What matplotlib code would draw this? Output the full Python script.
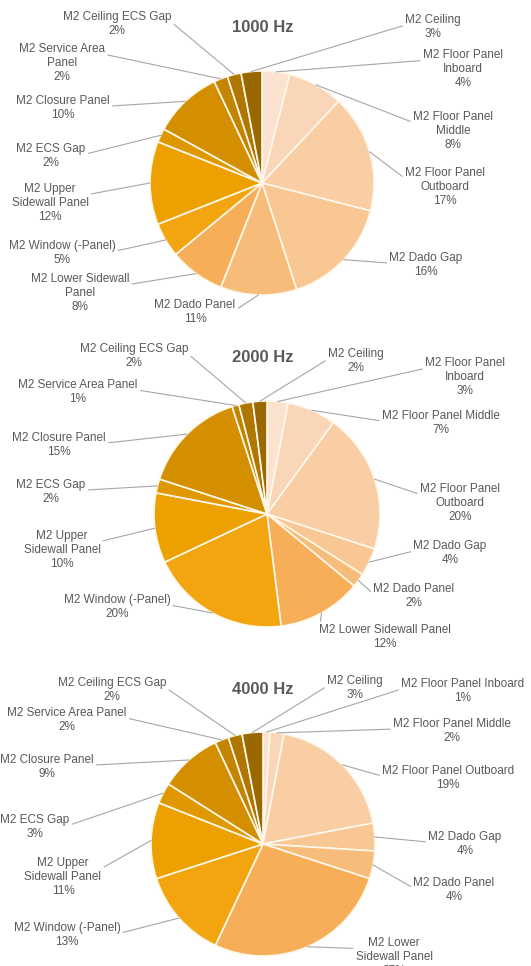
import numpy as np
import matplotlib
matplotlib.use("Agg")
import matplotlib.pyplot as plt

plt.rcParams['font.family'] = ['Liberation Sans', 'DejaVu Sans']

# slice order clockwise from 12 o'clock
parts = ["M2 Floor Panel Inboard", "M2 Floor Panel Middle", "M2 Floor Panel Outboard",
         "M2 Dado Gap", "M2 Dado Panel", "M2 Lower Sidewall Panel", "M2 Window (-Panel)",
         "M2 Upper Sidewall Panel", "M2 ECS Gap", "M2 Closure Panel",
         "M2 Service Area Panel", "M2 Ceiling ECS Gap", "M2 Ceiling"]
share_1000 = [4, 8, 17, 16, 11, 8, 5, 12, 2, 10, 2, 2, 3]
share_2000 = [3, 7, 20, 4, 2, 12, 20, 10, 2, 15, 1, 2, 2]
share_4000 = [1, 2, 19, 4, 4, 27, 13, 11, 3, 9, 2, 2, 3]
titles = ["1000 Hz", "2000 Hz", "4000 Hz"]

# how the names wrap in each chart
names_1000 = ["M2 Floor Panel\nInboard", "M2 Floor Panel\nMiddle", "M2 Floor Panel\nOutboard",
              "M2 Dado Gap", "M2 Dado Panel", "M2 Lower Sidewall\nPanel", "M2 Window (-Panel)",
              "M2 Upper\nSidewall Panel", "M2 ECS Gap", "M2 Closure Panel",
              "M2 Service Area\nPanel", "M2 Ceiling ECS Gap", "M2 Ceiling"]
names_2000 = ["M2 Floor Panel\nInboard", "M2 Floor Panel Middle", "M2 Floor Panel\nOutboard",
              "M2 Dado Gap", "M2 Dado Panel", "M2 Lower Sidewall Panel", "M2 Window (-Panel)",
              "M2 Upper\nSidewall Panel", "M2 ECS Gap", "M2 Closure Panel",
              "M2 Service Area Panel", "M2 Ceiling ECS Gap", "M2 Ceiling"]
names_4000 = ["M2 Floor Panel Inboard", "M2 Floor Panel Middle", "M2 Floor Panel Outboard",
              "M2 Dado Gap", "M2 Dado Panel", "M2 Lower\nSidewall Panel", "M2 Window (-Panel)",
              "M2 Upper\nSidewall Panel", "M2 ECS Gap", "M2 Closure Panel",
              "M2 Service Area Panel", "M2 Ceiling ECS Gap", "M2 Ceiling"]

# layout, in pixels from the top-left corner
pies = [(262, 183, 112), (267, 514, 113), (263, 844, 112)]
title_y = [27, 357, 689]
pos_1000 = [(463, 69), (453, 131), (445, 187), (426, 265), (195, 312), (80, 293), (62, 253),
            (50, 203), (51, 156), (63, 108), (62, 63), (117, 24), (433, 27)]
pos_2000 = [(465, 377), (441, 423), (460, 503), (450, 553), (414, 596), (385, 637), (117, 607),
            (62, 550), (51, 492), (59, 445), (78, 392), (134, 356), (356, 361)]
pos_4000 = [(463, 691), (452, 731), (448, 778), (465, 844), (454, 890), (394, 957), (67, 935),
            (63, 877), (35, 827), (47, 767), (67, 720), (112, 690), (355, 688)]

colors = ['#FCE3D0', '#FAD6B8', '#F9CEA5', '#F9C794', '#F7BC7A', '#F6AE58', '#F3A510',
          '#EDA100', '#E09800', '#D38F00', '#C38500', '#AF7700', '#9A6800']

W, H = 531, 966
fig = plt.figure(figsize=(W / 100, H / 100), dpi=100)
ax = fig.add_axes([0, 0, 1, 1])

text_col = '#595959'
line_col = '#A6A6A6'

charts = [(share_1000, names_1000, pos_1000), (share_2000, names_2000, pos_2000),
          (share_4000, names_4000, pos_4000)]

for k, (vals, names, pos) in enumerate(charts):
    cx, cy, r = pies[k]
    cy = H - cy
    wedges, _ = ax.pie(vals, colors=colors, startangle=90, counterclock=False,
                       center=(cx, cy), radius=r,
                       wedgeprops=dict(edgecolor='#FFF8EA', linewidth=1.2))
    ax.text(263, H - title_y[k], titles[k], ha='center', va='center',
            fontsize=12, fontweight='bold', color=text_col)
    total = float(sum(vals))
    for w, v, name, (lx, ly) in zip(wedges, vals, names, pos):
        pct = v / total * 100
        label = f"{name}\n{pct:.0f}%"
        n = label.count("\n") + 1
        mid = np.deg2rad((w.theta1 + w.theta2) / 2)
        px, py = cx + r * np.cos(mid), cy + r * np.sin(mid)
        side = 1 if lx < cx else 0
        ax.annotate(label, xy=(px, py), xytext=(lx, H - ly),
                    ha='center', va='center', fontsize=8.5, color=text_col,
                    linespacing=1.2,
                    arrowprops=dict(arrowstyle='-', color=line_col, lw=0.8,
                                    shrinkA=0, shrinkB=0,
                                    relpos=(side, 1 - 0.85 / n)))

ax.set_xlim(0, W)
ax.set_ylim(0, H)
ax.set_aspect('auto')
ax.axis('off')

fig.savefig('out.png', dpi=100, facecolor='white')
